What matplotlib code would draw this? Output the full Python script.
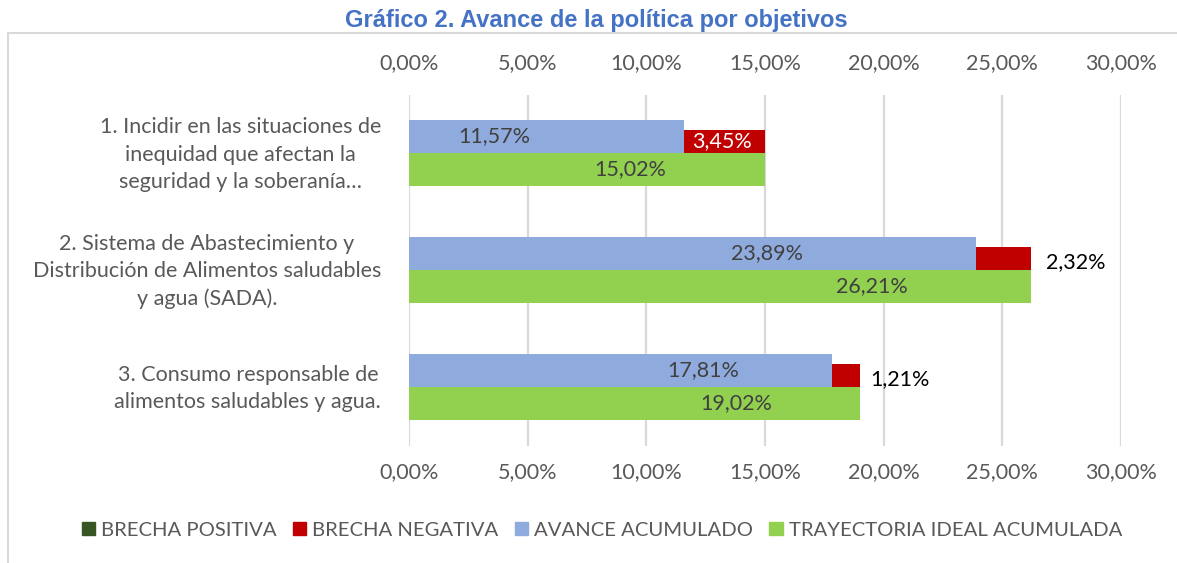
import matplotlib.pyplot as plt
from matplotlib.patches import Rectangle, Patch
from matplotlib.ticker import FuncFormatter

plt.rcParams['font.family'] = ['Lato', 'DejaVu Sans']

# data
objetivos = [
    '1. Incidir en las situaciones de\ninequidad que afectan la\nseguridad y la soberanía…',
    '2. Sistema de Abastecimiento y\nDistribución de Alimentos saludables\ny agua (SADA).',
    '3. Consumo responsable de\nalimentos saludables y agua.',
]
avance = [11.57, 23.89, 17.81]
brecha_negativa = [3.45, 2.32, 1.21]
brecha_positiva = [0.0, 0.0, 0.0]
trayectoria = [15.02, 26.21, 19.02]
xticks = [0, 5, 10, 15, 20, 25, 30]

# where excel put the labels (x in %)
avance_label_x = [3.58, 15.09, 12.39]
trayectoria_label_x = [9.33, 19.5, 13.8]

c_pos = '#375623'
c_neg = '#C00000'
c_av = '#8FAADC'
c_tr = '#92D050'
grid_c = '#D9D9D9'
fs = 15.5

fig = plt.figure(figsize=(11.77, 5.63), dpi=100)
ax = fig.add_axes([409 / 1177, 1 - 445.5 / 563, 712 / 1177, 351 / 563])

h = 0.282
hr = 0.197
idx = list(range(len(objetivos)))

ax.barh([i - h / 2 for i in idx], avance, height=h, color=c_av, zorder=3)
ax.barh([i - hr / 2 for i in idx], brecha_negativa, left=avance, height=hr, color=c_neg, zorder=3)
ax.barh([i - hr / 2 for i in idx], brecha_positiva, left=avance, height=hr, color=c_pos, zorder=3)
ax.barh([i + h / 2 for i in idx], trayectoria, height=h, color=c_tr, zorder=3)

fmt = lambda v: f'{v:.2f}%'.replace('.', ',')

for i in idx:
    ax.text(avance_label_x[i], i - h / 2, fmt(avance[i]), ha='center', va='center',
            fontsize=fs, color='#404040', zorder=4)
    ax.text(trayectoria_label_x[i], i + h / 2, fmt(trayectoria[i]), ha='center', va='center',
            fontsize=fs, color='#404040', zorder=4)
    if i == 0:
        ax.text(avance[i] + brecha_negativa[i] / 2 - 0.1, i - hr / 2, fmt(brecha_negativa[i]),
                ha='center', va='center', fontsize=fs, color='white', zorder=4)
    else:
        ax.text(avance[i] + brecha_negativa[i] + (1.9 if i == 1 else 1.65), i - hr / 2 + 0.03,
                fmt(brecha_negativa[i]), ha='center', va='center', fontsize=fs,
                color='black', zorder=4)

ax.set_xlim(0, 30)
ax.set_ylim(2.5, -0.5)
ax.set_xticks(xticks)
ax.xaxis.set_major_formatter(FuncFormatter(lambda v, p: fmt(v)))
ax.set_yticks([i - 0.035 for i in idx])
ax.set_yticklabels(objetivos, linespacing=1.45)
for t in ax.get_yticklabels():
    t.set_multialignment('center')
ax.tick_params(axis='x', length=0, labelsize=fs, labelcolor='#595959', pad=12)
ax.tick_params(axis='y', length=0, labelsize=fs, labelcolor='#595959', pad=20)
ax.grid(axis='x', color=grid_c, linewidth=1.6, zorder=0)
for s in ax.spines.values():
    s.set_visible(False)

top = ax.secondary_xaxis('top')
top.set_xticks(xticks)
top.xaxis.set_major_formatter(FuncFormatter(lambda v, p: fmt(v)))
top.tick_params(axis='x', length=0, labelsize=fs, labelcolor='#595959', pad=15.5)
for s in top.spines.values():
    s.set_visible(False)

fig.text(596 / 1177, 1 - 20 / 563, 'Gráfico 2. Avance de la política por objetivos',
         ha='center', va='center', fontsize=17, fontweight='bold', color='#4472C4',
         family='Liberation Sans')

fig.patches.append(Rectangle((8 / 1177, -0.2), 1.2, 1 - 33 / 563 + 0.2, fill=False,
                             edgecolor=grid_c, linewidth=1.5, transform=fig.transFigure))

handles = [Patch(color=c_pos), Patch(color=c_neg), Patch(color=c_av), Patch(color=c_tr)]
labels = ['BRECHA POSITIVA', 'BRECHA NEGATIVA', 'AVANCE ACUMULADO', 'TRAYECTORIA IDEAL ACUMULADA']
fig.legend(handles, labels, ncol=4, loc='center', bbox_to_anchor=(602 / 1177, 1 - 530 / 563),
           frameon=False, fontsize=14.6, labelcolor='#595959', handlelength=0.65, handleheight=0.65,
           handletextpad=0.3, columnspacing=0.8)

fig.savefig('out.png', dpi=100)
